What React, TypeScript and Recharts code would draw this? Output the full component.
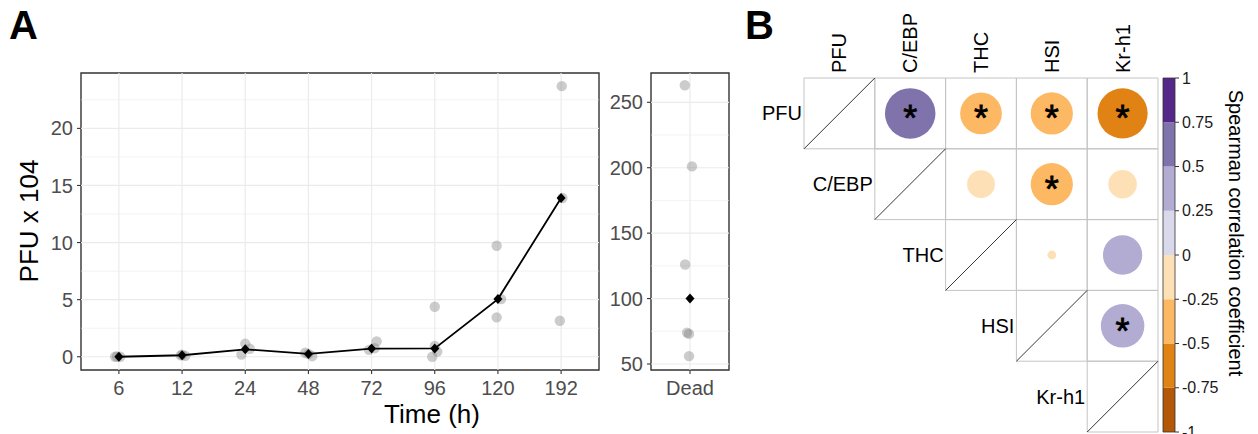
import React from 'react';
import { ScatterChart, Scatter, XAxis, YAxis, ZAxis, ReferenceLine, ReferenceArea } from 'recharts';

const FONT = "'Liberation Sans', Arial, sans-serif";

// panel A, main: PFU over time
const timeLabels = ['6', '12', '24', '48', '72', '96', '120', '192'];
const medianPfu = [0, 0.13, 0.65, 0.25, 0.72, 0.73, 5.05, 13.9];
const repTime = [0, 0, 0, 1, 1, 1, 2, 2, 2, 3, 3, 3, 4, 4, 4, 5, 5, 5, 5, 6, 6, 6, 7, 7, 7];
const repPfu = [0, 0.02, 0, 0.18, 0.08, 0.12, 1.15, 0.2, 0.7, 0.35, 0.05, 0.25, 1.35, 0.6, 0.75, 4.38, 0.95, 0.45, 0, 9.72, 5.05, 3.45, 23.7, 13.9, 3.15];
const repJitter = [-0.06, -0.03, 0.02, 0, 0.05, -0.02, 0, -0.06, 0.07, -0.05, 0.06, 0, 0.08, -0.04, 0.05, 0, 0, 0.04, -0.04, -0.02, 0.05, -0.02, 0.01, 0.02, -0.02];
const yTicksA = [0, 5, 10, 15, 20];
const yMinorA = [2.5, 7.5, 12.5, 17.5, 22.5];

// panel A, dead animals
const deadPfu = [263, 201, 126, 74, 73, 56];
const deadJitter = [-0.08, 0.03, -0.075, -0.045, -0.015, -0.015];
const deadMedian = 100;
const yTicksDead = [50, 100, 150, 200, 250];
const yMinorDead = [75, 125, 175, 225];

// panel B: spearman matrix (upper triangle)
const vars = ['PFU', 'C/EBP', 'THC', 'HSI', 'Kr-h1'];
const corrRow = [0, 0, 0, 0, 1, 1, 1, 2, 2, 3];
const corrCol = [1, 2, 3, 4, 2, 3, 4, 3, 4, 4];
const corrRho = [0.66, -0.45, -0.46, -0.65, -0.2, -0.46, -0.21, -0.02, 0.4, 0.49];
const corrSig = [true, true, true, true, false, true, false, false, false, true];
const breaks = [-1, -0.75, -0.5, -0.25, 0, 0.25, 0.5, 0.75, 1];
const puOr = ['#B35806', '#E08214', '#FDB863', '#FEE0B6', '#D8DAEB', '#B2ABD2', '#8073AC', '#542788'];

const binColor = (v: number) => puOr[Math.max(0, Math.min(7, Math.floor((v + 1) / 0.25)))];

const reps = repPfu.map((v, i) => ({ x: repTime[i] + repJitter[i], y: v }));
const medians = medianPfu.map((v, i) => ({ x: i, y: v }));
const deadPts = deadPfu.map((v, i) => ({ x: deadJitter[i], y: v }));
const corrPts = corrRho.map((r, i) => ({ x: corrCol[i], y: corrRow[i], z: Math.abs(r), rho: r, sig: corrSig[i] }));
const rowLabels = vars.map((v, i) => ({ x: i - 0.5, y: i, label: v }));
const barSteps = breaks.map((b) => ({ x: 0.5, y: b }));

const tickStyle = { fill: '#4D4D4D', fontSize: 20, fontFamily: FONT };
const tickLine = { stroke: '#333333', strokeWidth: 1.1 };

const GreyDot = (p: any) => <circle cx={p.cx} cy={p.cy} r={5.2} fill="#7F7F7F" fillOpacity={0.4} />;
const Diamond = (p: any) => (
  <polygon points={`${p.cx},${p.cy - 5} ${p.cx + 4.5},${p.cy} ${p.cx},${p.cy + 5} ${p.cx - 4.5},${p.cy}`} fill="#000" />
);
const Nothing = () => <g />;

const CorrDot = (p: any) => {
  const r = p.size != null ? Math.sqrt(p.size / Math.PI) : (p.width || 0) / 2;
  const d = p.payload;
  return (
    <g>
      <circle cx={p.cx} cy={p.cy} r={r} fill={binColor(d.rho)} />
      {d.sig && (
        <text x={p.cx} y={p.cy + 18} textAnchor="middle" fontSize={36} fontFamily={FONT} fill="#000"
          stroke="#000" strokeWidth={0.8}>*</text>
      )}
    </g>
  );
};

const RowLabel = (p: any) => (
  <text x={p.cx - 2} y={p.cy} dy="0.35em" textAnchor="end" fontSize={20} fontFamily={FONT} fill="#000">
    {p.payload.label}
  </text>
);

const ColTick = (p: any) => (
  <text x={p.x} y={p.y} transform={`rotate(-90, ${p.x}, ${p.y})`} dy="0.35em" textAnchor="start" fontSize={20} fontFamily={FONT} fill="#000">
    {vars[p.payload.value]}
  </text>
);

export default function App() {
  return (
    <div style={{ position: 'absolute', left: 0, top: 0, width: 1258, height: 434, background: '#fff', fontFamily: FONT }}>
      <div style={{ position: 'absolute', left: 0, top: 0 }}>
        <ScatterChart width={620} height={434} margin={{ top: 73, right: 21, bottom: 34, left: 0 }}>
          <XAxis type="number" dataKey="x" domain={[-0.6, 7.6]} ticks={[0, 1, 2, 3, 4, 5, 6, 7]} interval={0}
            tickFormatter={(i: number) => timeLabels[i]} allowDataOverflow height={30} tickSize={4} tickMargin={7}
            axisLine={false} tickLine={tickLine} tick={tickStyle} />
          <YAxis type="number" dataKey="y" domain={[-1.16, 24.85]} ticks={yTicksA} interval={0} allowDataOverflow
            width={81} tickSize={4} tickMargin={4} axisLine={false} tickLine={tickLine} tick={tickStyle} />
          {yMinorA.map((v) => <ReferenceLine key={'m' + v} y={v} stroke="#EBEBEB" strokeWidth={0.6} />)}
          {yTicksA.map((v) => <ReferenceLine key={'M' + v} y={v} stroke="#EBEBEB" strokeWidth={1.2} />)}
          {timeLabels.map((t, i) => <ReferenceLine key={'v' + t} x={i} stroke="#EBEBEB" strokeWidth={1.2} />)}
          <Scatter data={reps} shape={GreyDot} isAnimationActive={false} />
          <Scatter data={medians} shape={Diamond} line={{ stroke: '#000', strokeWidth: 1.8 }} lineType="joint" isAnimationActive={false} />
          <ReferenceArea x1={-0.6} x2={7.6} y1={-1.16} y2={24.85} fill="none" stroke="#333333" strokeWidth={1.4} />
        </ScatterChart>
      </div>

      <div style={{ position: 'absolute', left: 600, top: 0 }}>
        <ScatterChart width={140} height={434} margin={{ top: 73, right: 11, bottom: 34, left: 0 }}>
          <XAxis type="number" dataKey="x" domain={[-0.6, 0.6]} ticks={[0]} interval={0} tickFormatter={() => 'Dead'}
            allowDataOverflow height={30} tickSize={4} tickMargin={7} axisLine={false} tickLine={tickLine} tick={tickStyle} />
          <YAxis type="number" dataKey="y" domain={[45.4, 272.4]} ticks={yTicksDead} interval={0} allowDataOverflow
            width={51} tickSize={4} tickMargin={4} axisLine={false} tickLine={tickLine} tick={tickStyle} />
          {yMinorDead.map((v) => <ReferenceLine key={'m' + v} y={v} stroke="#EBEBEB" strokeWidth={0.6} />)}
          {yTicksDead.map((v) => <ReferenceLine key={'M' + v} y={v} stroke="#EBEBEB" strokeWidth={1.2} />)}
          <ReferenceLine x={0} stroke="#EBEBEB" strokeWidth={1.2} />
          <Scatter data={deadPts} shape={GreyDot} isAnimationActive={false} />
          <Scatter data={[{ x: 0, y: deadMedian }]} shape={Diamond} isAnimationActive={false} />
          <ReferenceArea x1={-0.6} x2={0.6} y1={45.4} y2={272.4} fill="none" stroke="#333333" strokeWidth={1.4} />
        </ScatterChart>
      </div>

      <div style={{ position: 'absolute', left: 750, top: 0 }}>
        <ScatterChart width={420} height={434} margin={{ top: 0, right: 12, bottom: 2, left: 54 }}>
          <XAxis type="number" dataKey="x" orientation="top" domain={[-0.5, 4.5]} ticks={[0, 1, 2, 3, 4]} interval={0}
            height={78} tickSize={0} tickMargin={5} axisLine={false} tickLine={false} tick={ColTick} />
          <YAxis type="number" dataKey="y" domain={[-0.5, 4.5]} reversed hide />
          <ZAxis type="number" dataKey="z" domain={[0, 1]} range={[0, 3039]} />
          {vars.map((_, r) =>
            vars.map((__, c) =>
              c >= r ? (
                <ReferenceArea key={`c${r}-${c}`} x1={c - 0.5} x2={c + 0.5} y1={r - 0.5} y2={r + 0.5}
                  fill="none" stroke="#C4C4C4" strokeWidth={1} />
              ) : null
            )
          )}
          {vars.map((v, i) => (
            <ReferenceLine key={'d' + v} segment={[{ x: i - 0.5, y: i + 0.5 }, { x: i + 0.5, y: i - 0.5 }]} stroke="#000" strokeWidth={0.8} />
          ))}
          <Scatter data={corrPts} shape={CorrDot} isAnimationActive={false} />
          <Scatter data={rowLabels} shape={RowLabel} isAnimationActive={false} />
        </ScatterChart>
      </div>

      <div style={{ position: 'absolute', left: 1150, top: 0 }}>
        <ScatterChart width={80} height={434} margin={{ top: 78, right: 0, bottom: 2, left: 13 }}>
          <XAxis type="number" dataKey="x" domain={[0, 1]} hide />
          <YAxis type="number" dataKey="y" orientation="right" domain={[-1, 1]} ticks={breaks} interval={0}
            width={55} tickSize={4} tickMargin={3} axisLine={false} tickLine={{ stroke: '#333333', strokeWidth: 1 }}
            tick={{ fill: '#1A1A1A', fontSize: 16, fontFamily: FONT }} tickFormatter={(v: number) => String(v)} />
          {puOr.map((col, k) => (
            <ReferenceArea key={col} x1={0} x2={1} y1={breaks[k]} y2={breaks[k + 1]} fill={col} fillOpacity={1} stroke="none" />
          ))}
          <ReferenceArea x1={0} x2={1} y1={-1} y2={1} fill="none" stroke="#333333" strokeWidth={0.8} />
          <Scatter data={barSteps} shape={Nothing} isAnimationActive={false} />
        </ScatterChart>
      </div>

      <svg width={1258} height={434} style={{ position: 'absolute', left: 0, top: 0, pointerEvents: 'none' }} fontFamily={FONT}>
        <text x={9} y={39} fontSize={40} fontWeight="bold" fill="#000">A</text>
        <text x={745} y={39} fontSize={40} fontWeight="bold" fill="#000">B</text>
        <text transform="translate(29,221) rotate(-90)" textAnchor="middle" dy="0.35em" fontSize={26} fill="#000">PFU x 104</text>
        <text x={432} y={423} textAnchor="middle" fontSize={26} fill="#000">Time (h)</text>
        <text transform="translate(1236,233) rotate(90)" textAnchor="middle" dy="0.35em" fontSize={20} fill="#000">Spearman correlation coefficient</text>
      </svg>
    </div>
  );
}
